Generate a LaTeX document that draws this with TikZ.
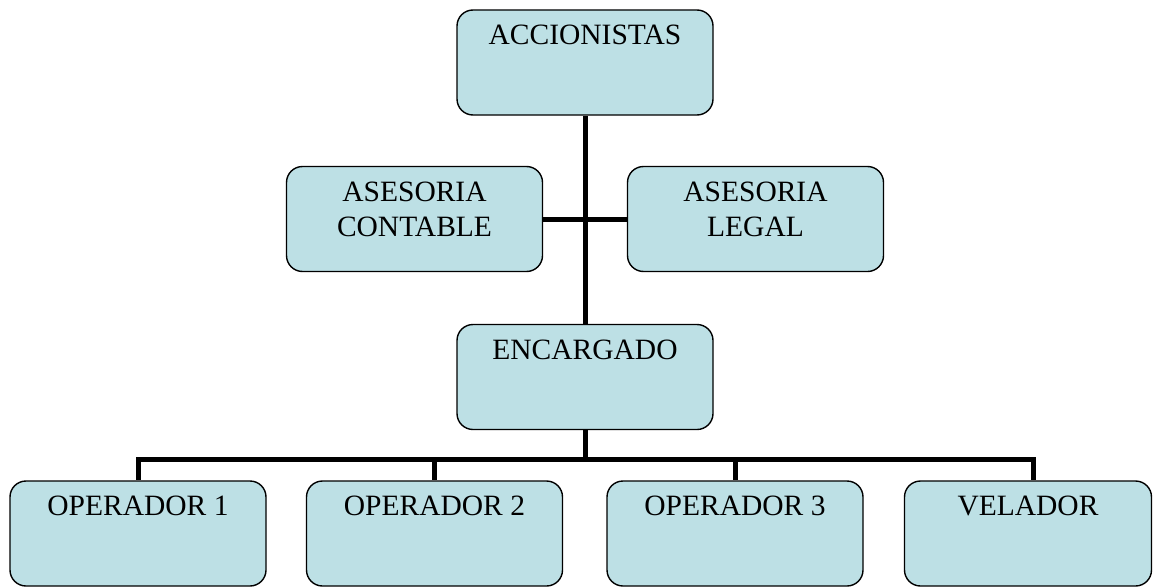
\documentclass[tikz,border=0pt]{standalone}
\usepackage{fontspec}
\setmainfont{Liberation Serif}
\usepackage{tikz}

\definecolor{celeste}{RGB}{189,224,229}
\newcommand{\cajatexto}[1]{\parbox[t][75pt][t]{246pt}{\centering #1}}

\begin{document}
\begin{tikzpicture}[x=1pt,y=-1pt,
  caja/.style={draw=black,line width=1.4pt,rounded corners=16pt,fill=celeste,
    minimum width=256pt,minimum height=105pt,inner sep=0pt,
    font=\fontsize{29.5}{35}\selectfont},
  linea/.style={line width=5pt}]
  \useasboundingbox (0,0) rectangle (1153,586);
  % direccion
  \node[caja] (acc) at (585,62.5) {\cajatexto{ACCIONISTAS}};
  \node[caja] (cont) at (414.5,219) {\cajatexto{ASESORIA\\CONTABLE}};
  \node[caja] (legal) at (755.5,219) {\cajatexto{ASESORIA\\LEGAL}};
  \node[caja] (enc) at (585,377) {\cajatexto{ENCARGADO}};
  % personal
  \foreach \n/\x/\t in {op1/138/OPERADOR 1,op2/434.5/OPERADOR 2,op3/735/OPERADOR 3} {
    \node[caja] (\n) at (\x,533.5) {\cajatexto{\t}};
  }
  \node[caja,minimum width=247pt] (vel) at (1028,533.5) {\cajatexto{VELADOR}};
  % lineas
  \coordinate (bus) at (585,459);
  \draw[linea] (acc.south) -- (enc.north);
  \draw[linea] (cont.east) -- (legal.west);
  \draw[linea] (enc.south) -- (bus);
  \foreach \n in {op1,op2,op3} {
    \draw[linea] (bus) -| (\n.north);
  }
  \draw[linea] (bus) -| ([xshift=5pt]vel.north);
\end{tikzpicture}
\end{document}
